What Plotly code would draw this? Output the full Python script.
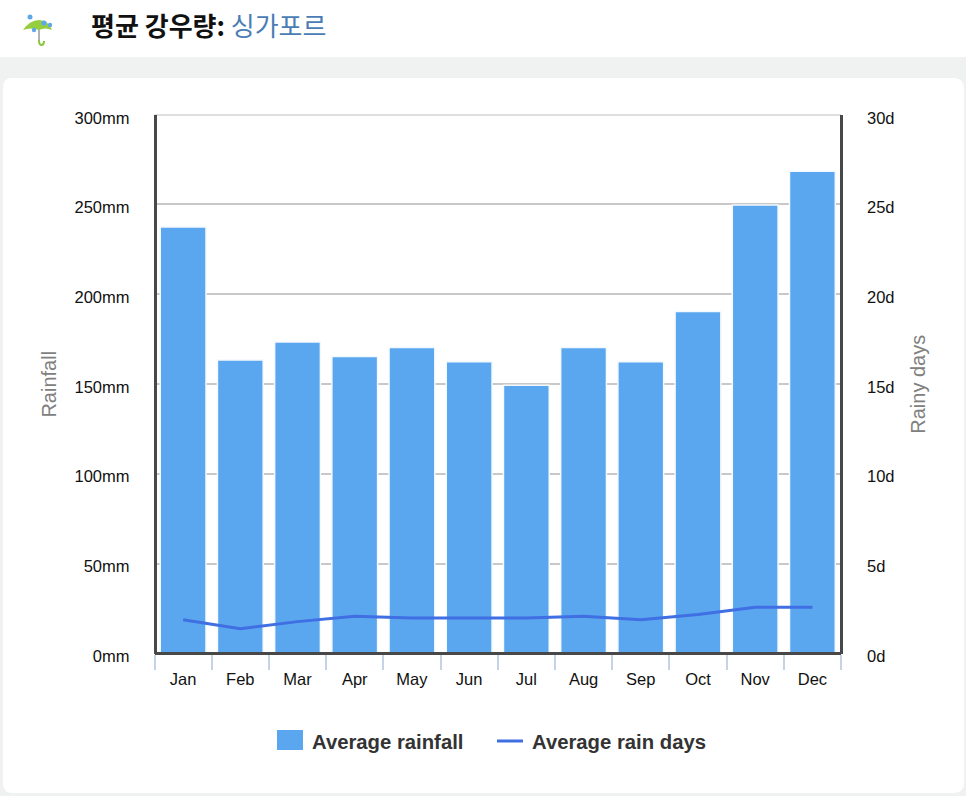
import plotly.graph_objects as go

months = ["Jan", "Feb", "Mar", "Apr", "May", "Jun", "Jul", "Aug", "Sep", "Oct", "Nov", "Dec"]
rainfall = [237.5, 163.5, 173.5, 165.5, 170.5, 162.5, 149.5, 170.5, 162.5, 190.5, 249.7, 268.5]
rain_days = [1.9, 1.4, 1.8, 2.1, 2.0, 2.0, 2.0, 2.1, 1.9, 2.2, 2.6, 2.6]
left_ticks = [0, 50, 100, 150, 200, 250, 300]
left_labels = ["0mm", "50mm", "100mm", "150mm", "200mm", "250mm", "300mm"]
right_ticks = [0, 5, 10, 15, 20, 25, 30]
right_labels = ["0d", "5d", "10d", "15d", "20d", "25d", "30d"]

W, H = 966, 796
L, R, T, B = 154.5, 841, 114.5, 654
LABEL_TOP, LABEL_BOTTOM = 118, 656
FONT = "Liberation Sans"
KR = "Noto Sans CJK KR"
SPINE = "#484848"
GRID = "#c8c8c8"
BAR = "#5aa7f0"
LINE = "#3f6fe3"


def px(x):
    return x / W


def py(y):
    return 1 - y / H


def rect(x0, y0, x1, y1, color, layer="below"):
    return dict(type="rect", xref="paper", yref="paper", x0=px(x0), x1=px(x1), y0=py(y0), y1=py(y1),
                fillcolor=color, line=dict(width=0), layer=layer)


def path(points, fill=None, line=None, width=0, layer="above"):
    return dict(type="path", xref="paper", yref="paper", path=points, fillcolor=fill or "rgba(0,0,0,0)",
                line=dict(color=line or "rgba(0,0,0,0)", width=width), layer=layer)


def P(x, y):
    return f"{px(x):.5f},{py(y):.5f}"


def circle(cx, cy, r, color):
    return dict(type="circle", xref="paper", yref="paper", x0=px(cx - r), x1=px(cx + r),
                y0=py(cy + r), y1=py(cy - r), fillcolor=color, line=dict(width=0), layer="above")


fig = go.Figure()
fig.add_trace(go.Bar(x=months, y=rainfall, name="Average rainfall",
                     marker=dict(color=BAR, line=dict(width=1.5, color="#f4f9fe")), yaxis="y"))
fig.add_trace(go.Scatter(x=months, y=rain_days, name="Average rain days", mode="lines",
                         line=dict(color=LINE, width=3), yaxis="y2"))
# empty traces keep the label-carrying axes alive
fig.add_trace(go.Scatter(x=[months[0]], y=[None], yaxis="y3", showlegend=False, hoverinfo="skip"))
fig.add_trace(go.Scatter(x=[months[0]], y=[None], yaxis="y4", showlegend=False, hoverinfo="skip"))

domain = [py(B), py(T)]
label_domain = [py(LABEL_BOTTOM), py(LABEL_TOP)]
tick_font = dict(family=FONT, size=16.5, color="#111111")
title_font = dict(family=FONT, size=20, color="#808080")

shapes = [
    rect(0, 0, W, 57, "#ffffff"),
    path(f"M{P(11, 78)} L{P(953, 78)} Q{P(964, 78)} {P(964, 89)} L{P(964, 782)} Q{P(964, 793)} {P(953, 793)} "
         f"L{P(11, 793)} Q{P(3, 793)} {P(3, 782)} L{P(3, 89)} Q{P(3, 78)} {P(11, 78)} Z", fill="#ffffff", layer="below"),
    # top gridline at the axis maximum
    dict(type="line", xref="x domain", yref="y", x0=0, x1=1, y0=left_ticks[-1], y1=left_ticks[-1],
         line=dict(color="#bdbdbd", width=2), layer="below"),
    # umbrella icon
    path(f"M{P(39, 29)} L{P(39, 42)}", line="#9a9a9a", width=1.5),
    path(f"M{P(39, 40)} Q{P(39, 45)} {P(41.5, 45)} Q{P(44, 45)} {P(44, 41)}", line="#8cc63f", width=2),
    path(f"M{P(23, 30)} Q{P(30, 20)} {P(39, 20)} Q{P(48, 20)} {P(52, 30)} Q{P(45, 27)} {P(39, 30)} Q{P(31, 27)} {P(23, 30)} Z",
         fill="#95cf3f"),
    circle(30, 17, 2.5, "#5fa8e6"),
    circle(44, 23, 2.6, "#5fa8e6"),
    circle(50, 25, 2.2, "#5fa8e6"),
    circle(34, 30, 2.2, "#5fa8e6"),
    # legend swatches
    rect(277, 730, 303, 750, BAR, layer="above"),
    path(f"M{P(497, 741)} L{P(523, 741)}", line=LINE, width=3),
]

annotations = [
    dict(xref="paper", yref="paper", x=px(89), y=py(24), xanchor="left", yanchor="middle", showarrow=False,
         text="<b>평균 강우량:</b> <span style='color:#4a7db5'>싱가포르</span>",
         font=dict(family=KR, size=26, color="#111111")),
    dict(xref="paper", yref="paper", x=px(310), y=py(742), xanchor="left", yanchor="middle", showarrow=False,
         text="<b>Average rainfall</b>", font=dict(family=FONT, size=20.3, color="#333333")),
    dict(xref="paper", yref="paper", x=px(530), y=py(742), xanchor="left", yanchor="middle", showarrow=False,
         text="<b>Average rain days</b>", font=dict(family=FONT, size=20.3, color="#333333")),
]

fig.update_layout(
    width=W, height=H, margin=dict(l=0, r=0, t=0, b=0, autoexpand=False), autosize=False,
    paper_bgcolor="#f0f2f2", plot_bgcolor="rgba(0,0,0,0)", showlegend=False, bargap=0.2,
    shapes=shapes, annotations=annotations,
    xaxis=dict(domain=[px(L), px(R)], type="category", categoryorder="array", categoryarray=months,
               range=[-0.5, 11.5], tickson="boundaries", ticks="outside", ticklen=15, tickwidth=1.5,
               tickcolor="#c4d4e6", showline=True, linecolor=SPINE, linewidth=3, showgrid=False,
               tickfont=tick_font, anchor="free", position=py(652.5), automargin=False, ticklabelstandoff=11),
    yaxis=dict(domain=domain, range=[0, 300], tickvals=left_ticks[1:], showticklabels=False, ticks="",
               showgrid=True, gridcolor=GRID, gridwidth=1.5, zeroline=False,
               showline=True, linecolor=SPINE, linewidth=3, anchor="free", position=px(155), automargin=False,
               title=dict(text="Rainfall", font=title_font, standoff=91)),
    yaxis2=dict(domain=domain, range=[0, 30], overlaying="y", side="right", tickvals=right_ticks,
                showticklabels=False, ticks="", showgrid=False, zeroline=False,
                showline=True, linecolor=SPINE, linewidth=3, anchor="free", position=px(841.3), automargin=False,
                title=dict(text="Rainy days", font=title_font, standoff=68)),
    yaxis3=dict(domain=label_domain, range=[0, 300], tickvals=left_ticks, ticktext=left_labels, ticks="",
                showgrid=False, zeroline=False, showline=False, anchor="x", side="left",
                ticklabelstandoff=24, tickfont=tick_font, automargin=False),
    yaxis4=dict(domain=label_domain, range=[0, 30], tickvals=right_ticks, ticktext=right_labels, ticks="",
                showgrid=False, zeroline=False, showline=False, anchor="x", side="right",
                ticklabelstandoff=25, tickfont=tick_font, automargin=False),
)

fig.write_html("out.html", config=dict(displayModeBar=False),
               post_script="document.body.style.margin='0';document.body.style.overflow='hidden';")
